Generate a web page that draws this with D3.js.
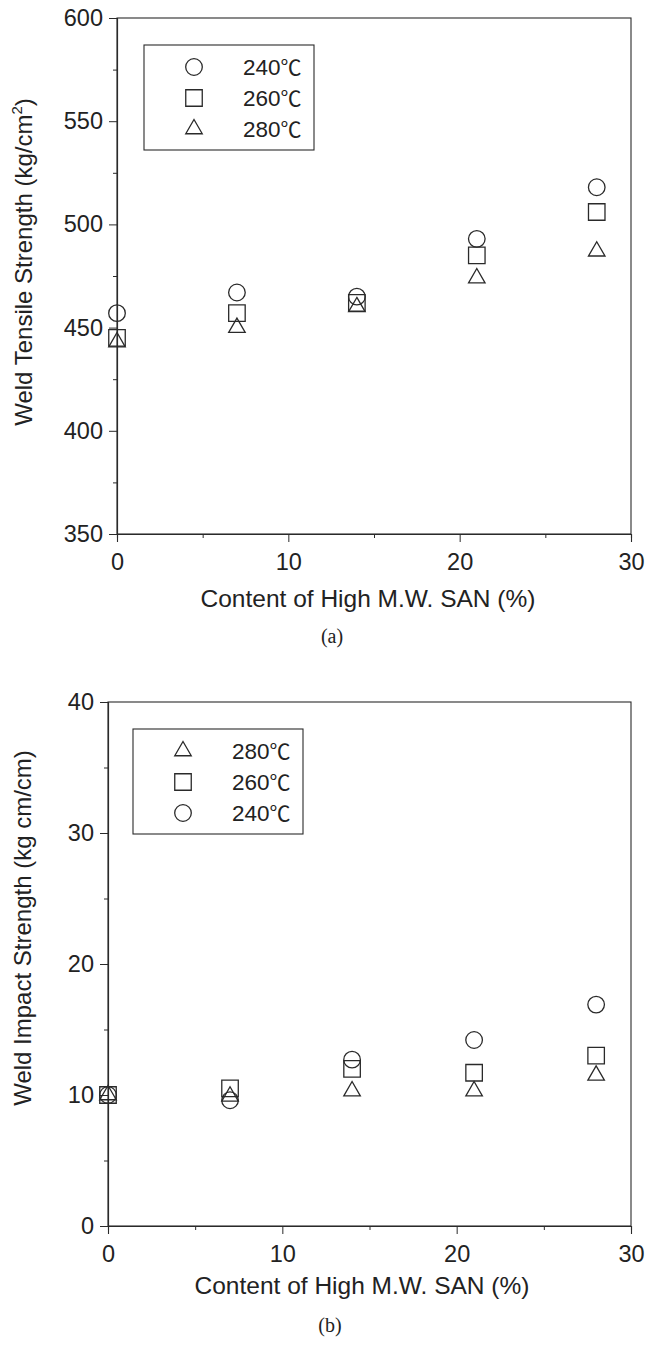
<!DOCTYPE html>
<html>
<head>
<meta charset="utf-8">
<script src="https://cdn.jsdelivr.net/npm/d3@7"></script>
<style>
  html, body { margin: 0; padding: 0; background: #fff; }
  svg { display: block; }
  text { font-family: "Liberation Sans", Arial, "Noto Sans CJK SC", sans-serif; fill: #222; }
</style>
</head>
<body>
<svg id="fig" width="648" height="1352"></svg>
<script>
// SAN content (%) in the blend
const sanContent = [0, 7, 14, 21, 28];

// (a) weld tensile strength, kg/cm2
const tensile240 = [457, 467, 465, 493, 518];
const tensile260 = [445, 457, 462, 485, 506];
const tensile280 = [443, 450, 460, 474, 487];

// (b) weld impact strength, kg cm/cm
const impact280 = [10.0, 9.9, 10.3, 10.3, 11.5];
const impact260 = [10.0, 10.5, 12.0, 11.7, 13.0];
const impact240 = [10.0, 9.6, 12.7, 14.2, 16.9];

const xTicks = [0, 10, 20, 30];
const xMinor = [5, 15, 25];
const tensileTicks = [350, 400, 450, 500, 550, 600];
const tensileMinor = [375, 425, 475, 525, 575];
const impactTicks = [0, 10, 20, 30, 40];
const impactMinor = [5, 15, 25, 35];

const svg = d3.select("#fig");
const ink = "#2a2a2a";

const shapes = {
  circle: d3.symbol().type(d3.symbolCircle).size(Math.PI * 8.3 * 8.3),
  square: d3.symbol().type(d3.symbolSquare).size(16.5 * 16.5),
  triangle: d3.symbol().type(d3.symbolTriangle).size(Math.sqrt(3) / 4 * 16.5 * 16.5)
};

function panel(cfg) {
  const g = svg.append("g");
  const x = d3.scaleLinear().domain([0, 30]).range([cfg.left, cfg.right]);
  const y = d3.scaleLinear().domain(cfg.yDomain).range([cfg.bottom, cfg.top]);

  // frame
  g.append("rect")
    .attr("x", cfg.left).attr("y", cfg.top)
    .attr("width", cfg.right - cfg.left).attr("height", cfg.bottom - cfg.top)
    .attr("fill", "none").attr("stroke", ink).attr("stroke-width", 1.1);

  // major and minor ticks, pointing outward
  const xAxis = g.append("g").attr("transform", `translate(0,${cfg.bottom})`)
    .call(d3.axisBottom(x).tickValues(xTicks).tickSize(8).tickPadding(6).tickFormat(d3.format("d")));
  const xAxisMinor = g.append("g").attr("transform", `translate(0,${cfg.bottom})`)
    .call(d3.axisBottom(x).tickValues(xMinor).tickSize(4).tickFormat(""));
  const yAxis = g.append("g").attr("transform", `translate(${cfg.left},0)`)
    .call(d3.axisLeft(y).tickValues(cfg.yTicks).tickSize(8).tickPadding(6).tickFormat(d3.format("d")));
  const yAxisMinor = g.append("g").attr("transform", `translate(${cfg.left},0)`)
    .call(d3.axisLeft(y).tickValues(cfg.yMinor).tickSize(4).tickFormat(""));

  [xAxis, xAxisMinor, yAxis, yAxisMinor].forEach(a => {
    a.select(".domain").attr("stroke", ink).attr("stroke-width", 1.1);
    a.selectAll(".tick line").attr("stroke", ink).attr("stroke-width", 1);
    a.selectAll(".tick text").style("font-size", "23.5px").attr("fill", "#222");
  });
  xAxis.selectAll(".tick text").attr("dy", "0.95em");

  // axis titles
  g.append("text")
    .attr("x", cfg.xTitleX).attr("y", cfg.xTitleY)
    .attr("text-anchor", "middle").style("font-size", "24.5px")
    .text("Content of High M.W. SAN (%)");

  const yt = g.append("text")
    .attr("transform", `translate(${cfg.yTitleX},${cfg.yTitleY}) rotate(-90)`)
    .attr("text-anchor", "middle").style("font-size", "24px");
  cfg.yTitle(yt);

  // panel caption
  g.append("text")
    .attr("x", cfg.capX).attr("y", cfg.capY)
    .attr("text-anchor", "middle")
    .style("font-family", "'Liberation Serif', 'Times New Roman', serif")
    .style("font-size", "20px")
    .text(cfg.caption);

  // data markers
  cfg.series.forEach(s => {
    g.append("g").selectAll("path")
      .data(sanContent.map((c, i) => [c, s.values[i]]))
      .join("path")
      .attr("d", shapes[s.shape])
      .attr("transform", d => `translate(${x(d[0])},${y(d[1])})`)
      .attr("fill", "none").attr("stroke", ink).attr("stroke-width", 1.3);
  });

  // legend
  const L = cfg.legend;
  const lg = g.append("g");
  lg.append("rect")
    .attr("x", L.x).attr("y", L.y).attr("width", 170).attr("height", 105)
    .attr("fill", "#fff").attr("stroke", ink).attr("stroke-width", 1.1);
  L.order.forEach((s, i) => {
    const cy = L.y + 22 + i * 31;
    lg.append("path")
      .attr("d", shapes[s.shape])
      .attr("transform", `translate(${L.x + 50},${cy})`)
      .attr("fill", "none").attr("stroke", ink).attr("stroke-width", 1.3);
    const t = lg.append("text")
      .attr("x", L.x + 99).attr("y", cy).attr("dy", "0.36em")
      .style("font-size", "22.5px");
    t.append("tspan").text(s.temp);
    t.append("tspan")
      .style("font-family", "'Noto Sans CJK SC', 'Noto Sans CJK JP', sans-serif")
      .style("font-size", "21px")
      .text("℃");
  });
}

const t240 = { temp: "240", shape: "circle", values: tensile240 };
const t260 = { temp: "260", shape: "square", values: tensile260 };
const t280 = { temp: "280", shape: "triangle", values: tensile280 };

panel({
  left: 117, right: 631, top: 18, bottom: 534,
  yDomain: [350, 600], yTicks: tensileTicks, yMinor: tensileMinor,
  series: [t240, t260, t280],
  legend: { x: 144, y: 45, order: [t240, t260, t280] },
  xTitleX: 368, xTitleY: 607,
  yTitleX: 32, yTitleY: 262,
  yTitle: t => {
    t.append("tspan").text("Weld Tensile Strength (kg/cm");
    t.append("tspan").style("font-size", "15px").attr("dy", -10).text("2");
    t.append("tspan").attr("dy", 10).text(")");
  },
  capX: 332, capY: 643, caption: "(a)"
});

const i280 = { temp: "280", shape: "triangle", values: impact280 };
const i260 = { temp: "260", shape: "square", values: impact260 };
const i240 = { temp: "240", shape: "circle", values: impact240 };

panel({
  left: 108, right: 631, top: 702, bottom: 1226,
  yDomain: [0, 40], yTicks: impactTicks, yMinor: impactMinor,
  series: [i280, i260, i240],
  legend: { x: 133, y: 729, order: [i280, i260, i240] },
  xTitleX: 362, xTitleY: 1294,
  yTitleX: 31, yTitleY: 928,
  yTitle: t => t.text("Weld Impact Strength (kg cm/cm)"),
  capX: 330, capY: 1332, caption: "(b)"
});
</script>
</body>
</html>
